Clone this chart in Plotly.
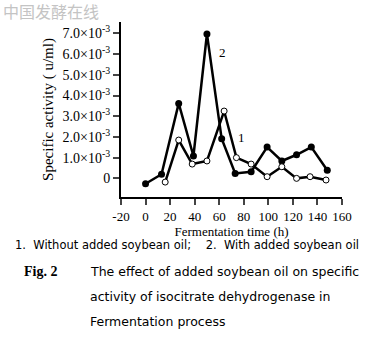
import plotly.graph_objects as go

# Series 2: with added soybean oil (filled markers)
t_with = [0, 13, 27, 39, 50, 62, 73, 86, 99, 111, 123, 135, 148]
v_with = [-0.26, 0.2, 3.62, 1.08, 6.97, 1.91, 0.24, 0.32, 1.51, 0.84, 1.14, 1.51, 0.39]
# Series 1: without added soybean oil (open markers)
t_without = [16, 27, 38, 50, 64, 74, 86, 99, 111, 123, 134, 147]
v_without = [-0.18, 1.85, 0.69, 0.84, 3.25, 1.0, 0.69, 0.08, 0.56, 0.0, 0.08, -0.08]

x_ticks = [-20, 0, 20, 40, 60, 80, 100, 120, 140, 160]
x_ticktext = [str(v) for v in x_ticks]
y_tickvals = [0, 1, 2, 3, 4, 5, 6, 7]
y_ticktext = ["0"] + [f"{v:.1f}×10<sup>-3</sup>" for v in y_tickvals[1:]]

serif = "Liberation Serif"
fig = go.Figure()
fig.add_trace(go.Scatter(x=t_with, y=v_with, mode="lines+markers",
                         line=dict(color="black", width=2.5),
                         marker=dict(symbol="circle", size=7, color="black"),
                         showlegend=False))
fig.add_trace(go.Scatter(x=t_without, y=v_without, mode="lines+markers",
                         line=dict(color="black", width=2.5),
                         marker=dict(symbol="circle", size=6, color="white",
                                     line=dict(color="black", width=1)),
                         showlegend=False))

fig.update_layout(
    width=377, height=337,
    margin=dict(l=121, r=35, t=22, b=140),
    paper_bgcolor="white", plot_bgcolor="white",
    font=dict(family=serif, color="black", size=13),
    xaxis=dict(range=[-20, 160], tickvals=x_ticks, ticktext=x_ticktext, ticks="outside", ticklen=6,
               tickwidth=2, showline=True, linewidth=2, linecolor="black",
               showgrid=False, zeroline=False,
               tickfont=dict(family=serif, size=13),
               title=dict(text="Fermentation time (h)", font=dict(family=serif, size=13), standoff=3)),
    yaxis=dict(range=[-0.9, 7.55], tickvals=y_tickvals, ticktext=y_ticktext,
               ticks="outside", ticklen=6, tickwidth=2, showline=True, linewidth=2,
               linecolor="black", showgrid=False, zeroline=False,
               tickfont=dict(family=serif, size=14),
               title=dict(text="Specific activity ( u/ml)", font=dict(family=serif, size=15), standoff=5)),
)

fig.add_annotation(x=62.5, y=6.1, text="2", showarrow=False, font=dict(family=serif, size=13))
fig.add_annotation(x=78.5, y=1.95, text="1", showarrow=False, font=dict(family=serif, size=13))

def paper_xy(px, py):
    return (px - 121) / 221, (197 - py) / 175

wx, wy = paper_xy(1, 11)
fig.add_annotation(xref="paper", yref="paper", x=wx, y=wy, xanchor="left", yanchor="middle",
                   text="中国发酵在线", showarrow=False,
                   font=dict(family="Noto Sans CJK SC", size=16, color="#c4c4c4"))

lx, ly = paper_xy(13, 245)
fig.add_annotation(xref="paper", yref="paper", x=lx, y=ly, xanchor="left", yanchor="middle",
                   text="1.  Without added soybean oil;    2.  With added soybean oil",
                   showarrow=False, font=dict(family="DejaVu Sans", size=11.5))
fx, fy = paper_xy(22, 271)
fig.add_annotation(xref="paper", yref="paper", x=fx, y=fy, xanchor="left", yanchor="middle",
                   text="<b>Fig. 2</b>", showarrow=False, font=dict(family=serif, size=14))
captions = ["The effect of added soybean oil on specific",
            "activity of isocitrate dehydrogenase in",
            "Fermentation process"]
for i, line in enumerate(captions):
    cx, cy = paper_xy(88, 271 + 25 * i)
    fig.add_annotation(xref="paper", yref="paper", x=cx, y=cy, xanchor="left", yanchor="middle",
                       text=line, showarrow=False, font=dict(family="DejaVu Sans", size=12.5))

fig.write_html("out.html")
